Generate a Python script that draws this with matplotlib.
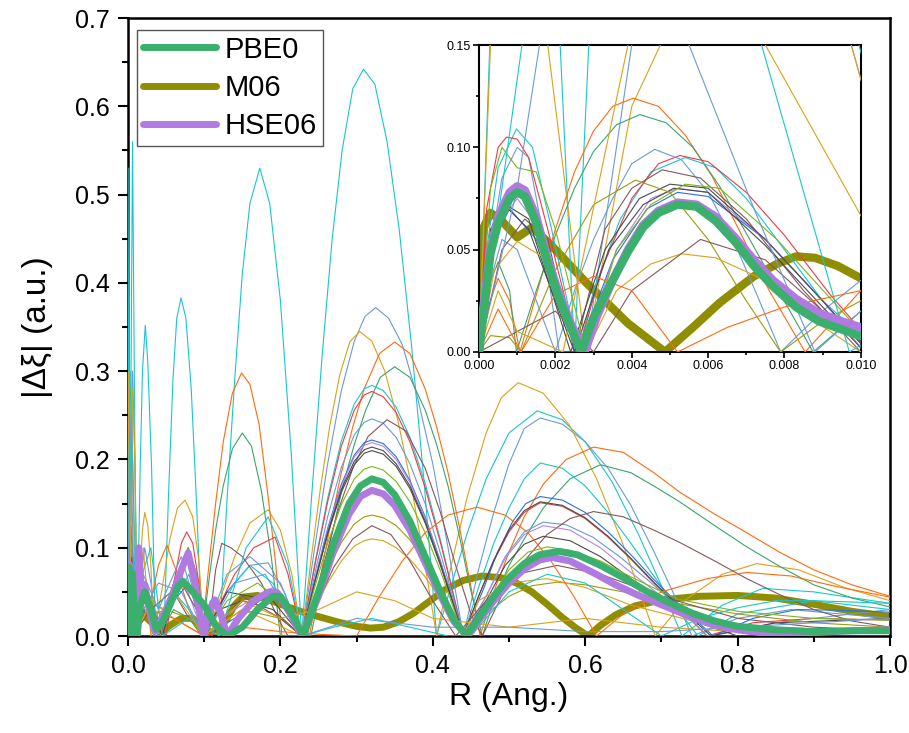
import matplotlib
matplotlib.use("Agg")
import matplotlib.pyplot as plt
from matplotlib.lines import Line2D
from matplotlib.ticker import MultipleLocator, FormatStrFormatter

plt.rcParams["font.family"] = ["Liberation Sans", "DejaVu Sans"]

# ---- highlighted functionals ----
r_pbe0 = [0, 0.0003, 0.0005, 0.0008, 0.001, 0.0012, 0.0015, 0.0018, 0.0021, 0.0024,
          0.00268, 0.003, 0.0035, 0.0039, 0.0043, 0.0047, 0.0052, 0.0057, 0.0062, 0.0067,
          0.0072, 0.0077, 0.0083, 0.0089, 0.0095, 0.01,
          0.012, 0.016, 0.022, 0.03, 0.037,
          0.045, 0.055, 0.065, 0.072, 0.085, 0.1, 0.115, 0.13, 0.15, 0.17,
          0.19, 0.2, 0.215, 0.23, 0.25, 0.27, 0.29, 0.305, 0.32, 0.335,
          0.35, 0.37, 0.39, 0.41, 0.428, 0.444, 0.46, 0.48, 0.5, 0.52,
          0.54, 0.565, 0.59, 0.62, 0.65, 0.68, 0.71, 0.74, 0.77, 0.8,
          0.85, 0.9, 0.95, 1.0]
dxi_pbe0 = [0, 0.048, 0.063, 0.075, 0.078, 0.076, 0.063, 0.043, 0.026, 0.012,
            0, 0.017, 0.035, 0.049, 0.061, 0.068, 0.072, 0.071, 0.064, 0.054,
            0.042, 0.032, 0.022, 0.015, 0.011, 0.0077,
            0, 0.035, 0.05, 0.03, 0.008,
            0.015, 0.035, 0.055, 0.062, 0.05, 0.035, 0.012, 0, 0.01, 0.03,
            0.045, 0.045, 0.025, 0, 0.05, 0.105, 0.15, 0.17, 0.178, 0.174,
            0.16, 0.13, 0.09, 0.05, 0.018, 0, 0.02, 0.045, 0.066, 0.082,
            0.092, 0.096, 0.092, 0.08, 0.066, 0.051, 0.038, 0.026, 0.017, 0.011,
            0.007, 0.005, 0.006, 0.006]

r_m06 = [0, 0.0001, 0.0003, 0.0006, 0.001, 0.0014, 0.002, 0.0028, 0.0039, 0.00487,
         0.0056, 0.0063, 0.0072, 0.0078, 0.0083, 0.0088, 0.0094, 0.01,
         0.015, 0.025, 0.035, 0.045, 0.055,
         0.07, 0.085, 0.1, 0.115, 0.13, 0.14, 0.15, 0.17, 0.2, 0.226,
         0.25, 0.275, 0.3, 0.318, 0.335, 0.355, 0.375, 0.395, 0.415, 0.44,
         0.465, 0.49, 0.51, 0.53, 0.55, 0.57, 0.588, 0.604, 0.62, 0.64,
         0.665, 0.7, 0.75, 0.8, 0.85, 0.9, 0.95, 1.0]
dxi_m06 = [0, 0.06, 0.068, 0.064, 0.056, 0.061, 0.05, 0.034, 0.014, 0,
           0.012, 0.024, 0.037, 0.043, 0.0467, 0.046, 0.042, 0.036,
           0.03, 0.02, 0.012, 0.005, 0.012,
           0.02, 0.02, 0.008, 0.002, 0.02, 0.035, 0.044, 0.046, 0.036, 0.028,
           0.022, 0.016, 0.011, 0.009, 0.01, 0.016, 0.026, 0.039, 0.052, 0.063,
           0.068, 0.066, 0.06, 0.05, 0.036, 0.021, 0.009, 0, 0.012, 0.024,
           0.034, 0.041, 0.045, 0.046, 0.043, 0.036, 0.028, 0.022]

r_hse06 = [0, 0.0001, 0.0003, 0.0005, 0.0008, 0.001, 0.0012, 0.0015, 0.0018, 0.0021,
           0.0024, 0.00277, 0.0031, 0.0035, 0.0039, 0.0043, 0.0047, 0.0052, 0.0057, 0.0062,
           0.0067, 0.0072, 0.0077, 0.0083, 0.0089, 0.0095, 0.01,
           0.011, 0.014, 0.017, 0.022, 0.028,
           0.035, 0.045, 0.06, 0.07, 0.079, 0.088, 0.099, 0.107, 0.114, 0.122,
           0.13, 0.145, 0.165, 0.185, 0.196, 0.21, 0.228, 0.25, 0.27, 0.29,
           0.305, 0.32, 0.335, 0.35, 0.37, 0.39, 0.41, 0.428, 0.446, 0.46,
           0.48, 0.5, 0.52, 0.54, 0.556, 0.58, 0.61, 0.64, 0.67, 0.707,
           0.74, 0.77, 0.8, 0.838, 0.9, 0.95, 1.0]
dxi_hse06 = [0, 0.02, 0.05, 0.066, 0.078, 0.081, 0.079, 0.066, 0.045, 0.028,
             0.014, 0, 0.018, 0.035, 0.05, 0.062, 0.069, 0.073, 0.072, 0.066,
             0.056, 0.045, 0.035, 0.026, 0.019, 0.015, 0.012,
             0, 0.1, 0.06, 0.058, 0.03,
             0.005, 0.02, 0.05, 0.075, 0.094, 0.06, 0, 0.03, 0.041, 0.025,
             0, 0.02, 0.04, 0.05, 0.049, 0.03, 0, 0.045, 0.097, 0.138,
             0.158, 0.165, 0.161, 0.148, 0.12, 0.083, 0.046, 0.016, 0, 0.017,
             0.04, 0.06, 0.076, 0.086, 0.089, 0.085, 0.072, 0.058, 0.046, 0.033,
             0.021, 0.012, 0.007, 0.003, 0.004, 0.006, 0.007]

# ---- other functionals (thin lines) ----
# shared R grid of the main hump between 0.228 and 0.44
r_hump = [0.228, 0.245, 0.262, 0.28, 0.297, 0.31, 0.32, 0.335, 0.352, 0.37, 0.39, 0.41, 0.425, 0.44]

r_t1 = [0, 0.0003, 0.0012, 0.0021, 0.0025, 0.0029, 0.006, 0.009, 0.012, 0.016,
        0.019, 0.0227, 0.026, 0.031, 0.036, 0.047, 0.053, 0.059, 0.064, 0.0696,
        0.076, 0.083, 0.09, 0.097, 0.108, 0.12, 0.13, 0.14, 0.15, 0.16,
        0.173, 0.186, 0.2, 0.214, 0.228, 0.242, 0.255, 0.268, 0.281, 0.295,
        0.309, 0.324, 0.34, 0.356, 0.372, 0.389, 0.405, 0.425, 0.445, 0.47,
        0.5, 0.537, 0.57, 0.6, 0.635, 0.67, 0.7, 0.727, 0.78, 0.833,
        0.9, 1.0]
dxi_t1 = [0, 0.16, 0.53, 0.16, 0, 0.16, 0.56, 0.22, 0, 0.19,
          0.3, 0.352, 0.31, 0.19, 0, 0, 0.155, 0.29, 0.36, 0.383,
          0.36, 0.28, 0.15, 0, 0.04, 0, 0.155, 0.29, 0.41, 0.49,
          0.53, 0.49, 0.38, 0.21, 0, 0.17, 0.32, 0.45, 0.55, 0.62,
          0.642, 0.625, 0.56, 0.46, 0.33, 0.17, 0, 0.06, 0.116, 0.178,
          0.23, 0.255, 0.245, 0.22, 0.175, 0.115, 0.057, 0, 0.035, 0.054,
          0.05, 0.037]

r_t2 = [0, 0.0003, 0.0006, 0.001, 0.0013, 0.0016, 0.0021, 0.0028, 0.004, 0.006,
        0.009, 0.012,
        0.016, 0.022, 0.03, 0.04, 0.06, 0.08, 0.1, 0.13, 0.16, 0.184,
        0.205, 0.228, 0.245, 0.262, 0.28, 0.297, 0.311, 0.325, 0.342, 0.36,
        0.38, 0.4, 0.42, 0.44, 0.46, 0.48, 0.5, 0.52, 0.541, 0.57,
        0.6, 0.63, 0.66, 0.69, 0.715, 0.74, 0.8, 0.87, 1.0]
dxi_t2 = [0, 0.05, 0.085, 0.1, 0.095, 0.065, 0, 0, 0.15, 0.3,
          0.2, 0,
          0.06, 0.1, 0.06, 0, 0.04, 0.07, 0, 0.05, 0.08, 0.083,
          0.05, 0, 0.1, 0.195, 0.278, 0.334, 0.362, 0.372, 0.36, 0.33,
          0.27, 0.195, 0.1, 0, 0.075, 0.14, 0.195, 0.235, 0.247, 0.24,
          0.22, 0.19, 0.148, 0.096, 0.05, 0, 0.02, 0.03, 0.02]

r_t3 = [0, 0.0005, 0.0012, 0.0018, 0.0028, 0.004, 0.006, 0.009, 0.012, 0.016,
        0.019, 0.022, 0.026, 0.03, 0.034, 0.045, 0.055, 0.065, 0.075, 0.085,
        0.093, 0.1, 0.12, 0.14, 0.16, 0.184, 0.2, 0.215, 0.228, 0.24,
        0.252, 0.265, 0.278, 0.291, 0.304, 0.32, 0.337, 0.354, 0.371, 0.388,
        0.405, 0.425, 0.445, 0.47, 0.49, 0.512, 0.545, 0.58, 0.615, 0.65,
        0.692, 0.73, 0.78, 0.825, 0.88, 0.94, 1.0]
dxi_t3 = [0, 0.25, 0.3, 0.15, 0, 0.12, 0.2, 0.1, 0, 0.075,
          0.12, 0.14, 0.125, 0.08, 0, 0.055, 0.11, 0.145, 0.154, 0.135,
          0.085, 0, 0.04, 0.09, 0.128, 0.143, 0.12, 0.07, 0, 0.085,
          0.164, 0.239, 0.296, 0.333, 0.345, 0.334, 0.3, 0.245, 0.174, 0.09,
          0, 0.083, 0.157, 0.23, 0.27, 0.287, 0.275, 0.238, 0.178, 0.103,
          0, 0.04, 0.07, 0.082, 0.075, 0.055, 0.04]

r_t4 = [0, 0.0002, 0.0005, 0.0008, 0.00107, 0.0015, 0.002, 0.0025, 0.003, 0.0035,
        0.00404, 0.0047, 0.0054, 0.0061, 0.0068, 0.0076, 0.00854, 0.01,
        0.015, 0.025, 0.04, 0.051, 0.065, 0.08, 0.097, 0.105, 0.115,
        0.125, 0.137, 0.149, 0.16, 0.172, 0.185, 0.194, 0.202, 0.238, 0.25,
        0.265, 0.28, 0.295, 0.31, 0.33, 0.35, 0.37, 0.39, 0.405, 0.42,
        0.435, 0.45, 0.462, 0.48, 0.5, 0.52, 0.545, 0.575, 0.611, 0.65,
        0.69, 0.724, 0.77, 0.812, 0.855, 0.9, 0.95, 1.0]
dxi_t4 = [0, 0.02, 0.036, 0.025, 0, 0.028, 0.06, 0.088, 0.108, 0.12,
          0.124, 0.12, 0.106, 0.086, 0.06, 0.03, 0, 0.03,
          0.05, 0.02, 0.08, 0.103, 0.07, 0.03, 0, 0.07, 0.15,
          0.22, 0.275, 0.298, 0.285, 0.24, 0.15, 0.08, 0, 0, 0.056,
          0.123, 0.185, 0.237, 0.28, 0.32, 0.333, 0.32, 0.28, 0.237, 0.185,
          0.123, 0.056, 0, 0.05, 0.095, 0.135, 0.172, 0.2, 0.214, 0.208,
          0.185, 0.163, 0.138, 0.117, 0.095, 0.075, 0.058, 0.045]

r_t5 = [0, 0.0002, 0.0005, 0.0008, 0.00098, 0.0015, 0.002, 0.0025, 0.003, 0.0036,
        0.00421, 0.0049, 0.0056, 0.0063, 0.007, 0.0079, 0.00875, 0.01,
        0.015, 0.025, 0.04, 0.06, 0.08, 0.097, 0.105, 0.115, 0.125, 0.137,
        0.15, 0.162, 0.175, 0.188, 0.2, 0.24, 0.252, 0.267, 0.282, 0.297,
        0.312, 0.331, 0.35, 0.37, 0.39, 0.405, 0.42, 0.435, 0.45, 0.465,
        0.48, 0.5, 0.52, 0.545, 0.58, 0.62, 0.66, 0.69, 0.724, 0.77,
        0.812, 0.855, 0.9, 0.95, 1.0]
dxi_t5 = [0, 0.03, 0.044, 0.03, 0, 0.03, 0.057, 0.08, 0.098, 0.111,
          0.116, 0.112, 0.1, 0.081, 0.058, 0.028, 0, 0.02,
          0.06, 0.03, 0, 0.03, 0.02, 0, 0.055, 0.12, 0.17, 0.212,
          0.23, 0.215, 0.165, 0.09, 0, 0, 0.051, 0.113, 0.17, 0.217,
          0.256, 0.293, 0.305, 0.293, 0.256, 0.217, 0.17, 0.113, 0.051, 0,
          0.04, 0.08, 0.11, 0.145, 0.178, 0.194, 0.185, 0.17, 0.152, 0.125,
          0.101, 0.079, 0.058, 0.043, 0.033]

r_t6 = ([0, 0.0002, 0.0005, 0.00098, 0.0014, 0.0019, 0.0026, 0.003, 0.0037, 0.0045,
         0.0054, 0.0062, 0.007, 0.008, 0.009, 0.0105,
         0.02, 0.04, 0.06, 0.08, 0.1, 0.13, 0.16, 0.19] + r_hump +
        [0.46, 0.48, 0.5, 0.52, 0.541, 0.57, 0.6, 0.63, 0.66, 0.69, 0.72, 0.748, 0.8, 0.9, 1.0])
dxi_t6 = [0, 0.05, 0.09, 0.109, 0.1, 0.06, 0, 0.03, 0.065, 0.088,
          0.095, 0.09, 0.075, 0.05, 0.025, 0,
          0.06, 0.02, 0.05, 0.03, 0, 0.05, 0.08, 0.06,
          0, 0.081, 0.156, 0.221, 0.263, 0.28, 0.284, 0.278, 0.259, 0.225, 0.173, 0.109, 0.055, 0,
          0.055, 0.105, 0.145, 0.178, 0.196, 0.19, 0.17, 0.14, 0.105, 0.068, 0.032, 0, 0.025, 0.04, 0.037]

r_t7 = ([0, 0.0002, 0.0005, 0.00072, 0.001, 0.0013, 0.0018, 0.0026, 0.0032, 0.004,
         0.0047, 0.00526, 0.006, 0.007, 0.008, 0.0092, 0.0105,
         0.02, 0.03, 0.05, 0.06, 0.07, 0.077, 0.085,
         0.093, 0.1, 0.12, 0.14, 0.165, 0.193, 0.21] + r_hump +
        [0.46, 0.48, 0.5, 0.52, 0.541, 0.57, 0.6, 0.63, 0.66, 0.69, 0.725, 0.76, 0.82, 0.9, 1.0])
dxi_t7 = [0, 0.07, 0.1, 0.105, 0.104, 0.095, 0.06, 0, 0.04, 0.075,
          0.092, 0.096, 0.093, 0.078, 0.057, 0.028, 0,
          0.05, 0.035, 0, 0.06, 0.105, 0.118, 0.105,
          0.06, 0, 0.035, 0.07, 0.1, 0.112, 0.07,
          0, 0.079, 0.152, 0.215, 0.256, 0.273, 0.277, 0.271, 0.253, 0.22, 0.168, 0.106, 0.054, 0,
          0.045, 0.085, 0.118, 0.14, 0.151, 0.147, 0.133, 0.112, 0.087, 0.06, 0.03, 0, 0.015, 0.02, 0.018]

r_t8 = ([0, 0.0003, 0.0006, 0.001, 0.0015, 0.002, 0.0025, 0.003, 0.0035, 0.004,
         0.0046, 0.0053, 0.006, 0.0067, 0.0073, 0.0079, 0.009, 0.01,
         0.02, 0.04, 0.07, 0.1, 0.13, 0.16, 0.2] + r_hump +
        [0.47, 0.495, 0.52, 0.545, 0.575, 0.61, 0.645, 0.68, 0.72, 0.76, 0.85, 1.0])
dxi_t8 = [0, 0.035, 0.055, 0.05, 0.025, 0, 0.03, 0.055, 0.075, 0.092,
          0.099, 0.094, 0.078, 0.053, 0.027, 0, 0.02, 0.035,
          0.03, 0.06, 0.05, 0, 0.07, 0.09, 0.06,
          0, 0.07, 0.135, 0.191, 0.228, 0.242, 0.246, 0.241, 0.225, 0.195, 0.15, 0.094, 0.048, 0,
          0.045, 0.09, 0.118, 0.129, 0.126, 0.112, 0.09, 0.065, 0.035, 0, 0.015, 0.03]

r_t9 = [0, 0.0006, 0.0012, 0.0018, 0.0025, 0.0033, 0.004, 0.0048, 0.0058, 0.007,
        0.0085, 0.01, 0.02, 0.04, 0.06, 0.08, 0.105, 0.115, 0.123, 0.135,
        0.15, 0.175, 0.2, 0.21, 0.235, 0.255, 0.275, 0.295, 0.315, 0.34,
        0.365, 0.39, 0.41, 0.43, 0.45, 0.465, 0.49, 0.52, 0.55, 0.58,
        0.611, 0.65, 0.69, 0.724, 0.77, 0.812, 0.855, 0.9, 0.95, 1.0]
dxi_t9 = [0, 0.05, 0.065, 0.055, 0, 0.06, 0.08, 0.089, 0.085, 0.065,
          0.03, 0, 0.04, 0.01, 0.05, 0.02, 0, 0.075, 0.105, 0.1,
          0.09, 0.06, 0.015, 0, 0, 0.075, 0.14, 0.19, 0.226, 0.245,
          0.232, 0.19, 0.14, 0.08, 0.025, 0, 0.045, 0.085, 0.115, 0.133,
          0.141, 0.135, 0.12, 0.106, 0.085, 0.065, 0.047, 0.03, 0.017, 0.01]

r_t10 = ([0, 0.0004, 0.0008, 0.0015, 0.0026, 0.0035, 0.0044, 0.0052, 0.006, 0.0075,
          0.009, 0.0102, 0.02, 0.04, 0.06, 0.08, 0.1, 0.14, 0.19] + r_hump +
         [0.465, 0.485, 0.505, 0.522, 0.541, 0.57, 0.6, 0.63, 0.66, 0.69, 0.73, 0.768,
          0.82, 0.878, 0.94, 1.0])
dxi_t10 = [0, 0.055, 0.07, 0.055, 0, 0.045, 0.07, 0.078, 0.076, 0.055,
           0.025, 0, 0.03, 0.01, 0.04, 0.06, 0, 0.02, 0.05,
           0, 0.063, 0.122, 0.172, 0.205, 0.219, 0.222, 0.218, 0.203, 0.176, 0.135, 0.085, 0.043, 0,
           0.05, 0.095, 0.13, 0.15, 0.158, 0.154, 0.14, 0.118, 0.092, 0.064, 0.03, 0,
           0.02, 0.03, 0.029, 0.027]

r_t11 = ([0, 0.0004, 0.001, 0.0016, 0.0027, 0.0036, 0.0045, 0.0052, 0.006, 0.0075,
          0.009, 0.0101, 0.02, 0.04, 0.07, 0.1, 0.14, 0.19] + r_hump +
         [0.47, 0.495, 0.52, 0.545, 0.58, 0.62, 0.66, 0.7, 0.75, 0.8, 0.9, 1.0])
dxi_t11 = [0, 0.06, 0.075, 0.06, 0, 0.05, 0.075, 0.08, 0.078, 0.055,
           0.025, 0, 0.04, 0.01, 0.07, 0, 0.03, 0.055,
           0, 0.063, 0.12, 0.17, 0.203, 0.216, 0.219, 0.215, 0.2, 0.174, 0.133, 0.084, 0.043, 0,
           0.045, 0.088, 0.115, 0.125, 0.12, 0.1, 0.072, 0.045, 0.022, 0.012, 0.008, 0.008]

r_t12 = ([0, 0.0003, 0.0007, 0.0013, 0.0024, 0.0033, 0.0042, 0.005, 0.006, 0.0075,
          0.009, 0.0102, 0.02, 0.04, 0.06, 0.079, 0.09, 0.1, 0.13, 0.19] + r_hump +
         [0.46, 0.48, 0.5, 0.52, 0.541, 0.57, 0.6, 0.63, 0.66, 0.69, 0.73, 0.765, 0.85, 1.0])
dxi_t12 = [0, 0.06, 0.072, 0.065, 0, 0.05, 0.075, 0.082, 0.08, 0.055,
           0.025, 0, 0.055, 0.01, 0.06, 0.1, 0.07, 0, 0.05, 0.04,
           0, 0.061, 0.117, 0.166, 0.198, 0.211, 0.214, 0.21, 0.195, 0.17, 0.13, 0.082, 0.042, 0,
           0.045, 0.086, 0.12, 0.142, 0.152, 0.148, 0.134, 0.113, 0.088, 0.061, 0.028, 0, 0.015, 0.02]

r_t13 = ([0, 0.0003, 0.0007, 0.0013, 0.0025, 0.0034, 0.0043, 0.0051, 0.006, 0.0075,
          0.009, 0.0101, 0.02, 0.045, 0.065, 0.079, 0.09, 0.1, 0.12, 0.15, 0.19] + r_hump +
         [0.47, 0.495, 0.52, 0.545, 0.58, 0.62, 0.66, 0.7, 0.75, 0.8, 1.0])
dxi_t13 = [0, 0.058, 0.071, 0.06, 0, 0.05, 0.072, 0.08, 0.078, 0.052,
           0.022, 0, 0.05, 0, 0.06, 0.09, 0.06, 0, 0.03, 0.04, 0.03,
           0, 0.06, 0.115, 0.163, 0.194, 0.207, 0.21, 0.206, 0.192, 0.167, 0.128, 0.08, 0.041, 0,
           0.04, 0.08, 0.104, 0.113, 0.108, 0.09, 0.065, 0.04, 0.015, 0, 0.01]

r_t14 = ([0, 0.0003, 0.0006, 0.001, 0.0015, 0.002, 0.0028, 0.0036, 0.0045, 0.0054,
          0.0063, 0.0078, 0.0095, 0.0105, 0.02, 0.05, 0.065, 0.079, 0.09, 0.1,
          0.13, 0.17, 0.2] + r_hump +
         [0.47, 0.5, 0.525, 0.55, 0.58, 0.62, 0.66, 0.72, 0.8, 0.9, 1.0])
dxi_t14 = [0, 0.08, 0.1, 0.09, 0.088, 0.06, 0, 0.05, 0.072, 0.082,
           0.08, 0.055, 0.02, 0, 0.04, 0.03, 0.07, 0.1, 0.07, 0,
           0.04, 0.06, 0.04,
           0, 0.055, 0.105, 0.149, 0.178, 0.189, 0.192, 0.188, 0.175, 0.152, 0.117, 0.074, 0.037, 0,
           0.035, 0.075, 0.095, 0.101, 0.097, 0.085, 0.067, 0.042, 0.028, 0.02, 0.018]

r_t15 = ([0, 0.0003, 0.0008, 0.0011, 0.002, 0.003, 0.0041, 0.005, 0.006, 0.007,
          0.0079, 0.009, 0.01, 0.02, 0.05, 0.08, 0.1, 0.15, 0.2] + r_hump +
         [0.47, 0.5, 0.53, 0.563, 0.6, 0.65, 0.7, 0.8, 0.9, 1.0])
dxi_t15 = [0, 0.008, 0.007, 0, 0.04, 0.072, 0.084, 0.078, 0.055, 0.025,
           0, 0.015, 0.025, 0.02, 0.03, 0.02, 0, 0.03, 0.02,
           0, 0.039, 0.075, 0.106, 0.127, 0.135, 0.137, 0.134, 0.125, 0.109, 0.083, 0.052, 0.027, 0,
           0.025, 0.045, 0.057, 0.061, 0.058, 0.05, 0.04, 0.025, 0.015, 0.01]

r_t16 = ([0, 0.0004, 0.001, 0.0018, 0.0028, 0.0036, 0.0045, 0.0053, 0.0062, 0.0075,
          0.0088, 0.01, 0.03, 0.06, 0.1, 0.15, 0.19] + r_hump +
         [0.46, 0.5, 0.55, 0.6, 0.66, 0.75, 0.85, 1.0])
dxi_t16 = [0, 0.04, 0.054, 0.045, 0, 0.03, 0.043, 0.048, 0.046, 0.035,
           0.015, 0, 0.04, 0.02, 0, 0.03, 0.015,
           0, 0.031, 0.06, 0.085, 0.102, 0.108, 0.11, 0.108, 0.1, 0.087, 0.067, 0.042, 0.021, 0,
           0.04, 0.06, 0.065, 0.055, 0.035, 0.015, 0.005, 0.003]

r_t17 = [0, 0.001, 0.002, 0.003, 0.004, 0.0058, 0.0075, 0.009, 0.01, 0.03,
         0.07, 0.11, 0.15, 0.2, 0.228, 0.25, 0.27, 0.295, 0.32, 0.345,
         0.37, 0.4, 0.43, 0.47, 0.51, 0.563, 0.62, 0.7, 0.8, 0.9, 1.0]
dxi_t17 = [0, 0.01, 0.02, 0, 0.03, 0.055, 0.045, 0.02, 0.005, 0.03,
           0.06, 0, 0.045, 0.02, 0, 0.04, 0.078, 0.11, 0.125, 0.115,
           0.085, 0.04, 0, 0.04, 0.07, 0.08, 0.07, 0.045, 0.02, 0.01, 0.006]

r_t18 = [0, 0.0005, 0.0011, 0.002, 0.003, 0.004, 0.0052, 0.0065, 0.008, 0.01,
         0.03, 0.06, 0.1, 0.15, 0.2, 0.25, 0.3, 0.33, 0.36, 0.39,
         0.42, 0.458, 0.495, 0.525, 0.555, 0.585, 0.615, 0.65, 0.7, 0.76,
         0.812, 0.87, 0.93, 1.0]
dxi_t18 = [0, 0.021, 0, 0.028, 0.037, 0.03, 0, 0.012, 0.022, 0.03,
           0.03, 0.02, 0, 0.01, 0.005, 0.002, 0, 0.045, 0.085, 0.117,
           0.137, 0.146, 0.137, 0.117, 0.085, 0.045, 0, 0.025, 0.05, 0.065,
           0.072, 0.068, 0.056, 0.044]

r_t19 = [0, 0.0015, 0.003, 0.005, 0.0074, 0.0097, 0.015, 0.03, 0.045, 0.08,
         0.12, 0.155, 0.184, 0.21, 0.228, 0.27, 0.32, 0.37, 0.42, 0.45,
         0.5, 0.55, 0.6, 0.65, 0.7, 0.75, 0.8, 0.85, 0.9, 0.95, 1.0]
dxi_t19 = [0, 0.2, 0.3, 0.25, 0.15, 0, 0.06, 0.1, 0, 0.02,
           0, 0.1, 0.135, 0.08, 0, 0.01, 0.02, 0.01, 0, 0,
           0.05, 0.07, 0.06, 0.03, 0, 0.02, 0.032, 0.04, 0.04, 0.035, 0.03]

r_t20 = [0, 0.0005, 0.001, 0.0022, 0.0039, 0.006, 0.009, 0.012, 0.02, 0.03,
         0.06, 0.1, 0.15, 0.2, 0.25, 0.3, 0.35, 0.4, 0.5, 0.6, 0.7, 0.8, 1.0]
dxi_t20 = [0, 0.03, 0.01, 0, 0.15, 0.28, 0.2, 0, 0.1, 0,
           0.05, 0, 0.04, 0.02, 0.03, 0.05, 0.04, 0.02, 0.01, 0.02, 0.01, 0.005, 0.004]

r_t21 = [0, 0.001, 0.002, 0.004, 0.0055, 0.0072, 0.0088, 0.01, 0.02, 0.04,
         0.07, 0.1, 0.14, 0.18, 0.228, 0.3, 0.4, 0.5, 0.6, 0.7, 0.8, 0.9, 1.0]
dxi_t21 = [0, 0.08, 0.2, 0.25, 0.15, 0.07, 0, 0.02, 0.07, 0.03,
           0.09, 0, 0.06, 0.07, 0, 0.02, 0.01, 0.01, 0.005, 0.005, 0.01, 0.015, 0.02]

CYAN, ORANGE, GOLD, STEEL = "#19C6CF", "#FF6A10", "#D9A21A", "#6C9AD6"
RED, SEA, BROWN, BLUE = "#EE3A48", "#3AA46A", "#84585A", "#2A6FE0"
VIOLET, GRAY, YG, OLIVE_T = "#B585E6", "#4A4A4A", "#7DB51A", "#9E9A10"

thin = [
    (CYAN, r_t1, dxi_t1), (STEEL, r_t2, dxi_t2), (GOLD, r_t3, dxi_t3), (ORANGE, r_t4, dxi_t4),
    (SEA, r_t5, dxi_t5), (CYAN, r_t6, dxi_t6), (RED, r_t7, dxi_t7), (STEEL, r_t8, dxi_t8),
    (BROWN, r_t9, dxi_t9), (BLUE, r_t10, dxi_t10), (VIOLET, r_t11, dxi_t11), (GRAY, r_t12, dxi_t12),
    (GRAY, r_t13, dxi_t13), (YG, r_t14, dxi_t14), (OLIVE_T, r_t15, dxi_t15), (GOLD, r_t16, dxi_t16),
    (BROWN, r_t17, dxi_t17), (ORANGE, r_t18, dxi_t18), (CYAN, r_t19, dxi_t19), (GOLD, r_t20, dxi_t20),
    (STEEL, r_t21, dxi_t21),
]

C_PBE0, C_M06, C_HSE06 = "#3BAF6E", "#8E8E00", "#B07AE0"


def draw(ax, thin_lw, thick_lw):
    ax.plot(r_m06, dxi_m06, color=C_M06, lw=thick_lw, solid_joinstyle="round", zorder=2)
    for c, x, y in thin:
        ax.plot(x, y, color=c, lw=thin_lw, solid_joinstyle="round", zorder=3)
    ax.plot(r_hse06, dxi_hse06, color=C_HSE06, lw=thick_lw, solid_joinstyle="round", zorder=4)
    ax.plot(r_pbe0, dxi_pbe0, color=C_PBE0, lw=thick_lw, solid_joinstyle="round", zorder=5)


fig = plt.figure(figsize=(9.09, 7.33), dpi=100)
ax = fig.add_axes([0.1408, 0.1323, 0.8383, 0.8431])
draw(ax, 0.8, 5)

ax.set_xlim(0, 1.0)
ax.set_ylim(0, 0.7)
ax.xaxis.set_major_locator(MultipleLocator(0.2))
ax.xaxis.set_minor_locator(MultipleLocator(0.1))
ax.yaxis.set_major_locator(MultipleLocator(0.1))
ax.yaxis.set_minor_locator(MultipleLocator(0.05))
ax.xaxis.set_major_formatter(FormatStrFormatter("%.1f"))
ax.yaxis.set_major_formatter(FormatStrFormatter("%.1f"))
ax.tick_params(which="major", direction="out", length=7, width=1.5, labelsize=18, pad=6)
ax.tick_params(which="minor", direction="out", length=4, width=1.5)
for s in ax.spines.values():
    s.set_linewidth(1.8)
ax.set_xlabel("R (Ang.)", fontsize=23, labelpad=3)
ax.set_ylabel("|Δξ| (a.u.)", fontsize=24, labelpad=16)

handles = [Line2D([], [], color=C_PBE0, lw=5, solid_capstyle="round"),
           Line2D([], [], color=C_M06, lw=5, solid_capstyle="round"),
           Line2D([], [], color=C_HSE06, lw=5, solid_capstyle="round")]
leg = ax.legend(handles, ["PBE0", "M06", "HSE06"], loc="upper left", bbox_to_anchor=(0.012, 0.981),
                borderaxespad=0, fontsize=21, handlelength=2.5, handletextpad=0.3,
                labelspacing=0.35, borderpad=0.2, fancybox=False, framealpha=1)
leg.get_frame().set_edgecolor("#555555")
leg.get_frame().set_linewidth(1.0)

# inset: zoom on the first 0.01 Ang.
axin = fig.add_axes([0.527, 0.5198, 0.420, 0.4188])
draw(axin, 0.8, 6)
axin.set_xlim(0, 0.010)
axin.set_ylim(0, 0.15)
axin.xaxis.set_major_locator(MultipleLocator(0.002))
axin.xaxis.set_minor_locator(MultipleLocator(0.001))
axin.yaxis.set_major_locator(MultipleLocator(0.05))
axin.yaxis.set_minor_locator(MultipleLocator(0.025))
axin.xaxis.set_major_formatter(FormatStrFormatter("%.3f"))
axin.yaxis.set_major_formatter(FormatStrFormatter("%.2f"))
axin.tick_params(which="major", direction="out", length=4, width=1.2, labelsize=9, pad=2)
axin.tick_params(which="minor", direction="out", length=2.5, width=1.2)
for s in axin.spines.values():
    s.set_linewidth(1.5)

fig.savefig("out.png", dpi=100)
